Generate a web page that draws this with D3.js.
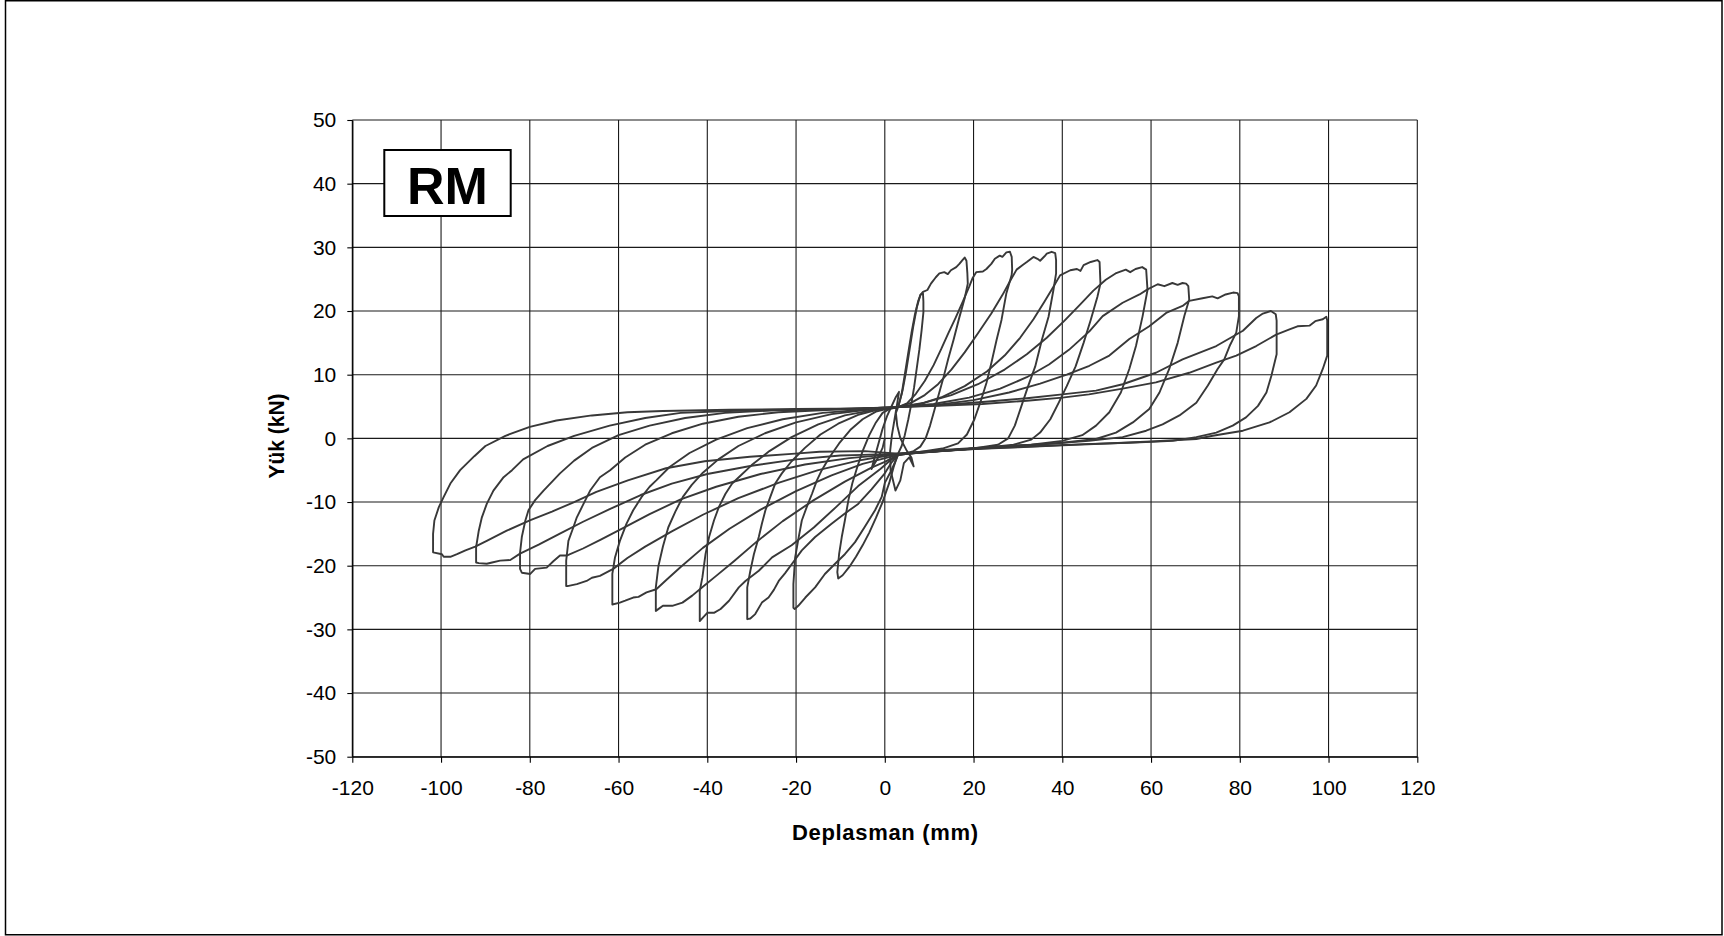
<!DOCTYPE html>
<html>
<head>
<meta charset="utf-8">
<script src="https://cdn.jsdelivr.net/npm/d3@7"></script>
<style>
  html, body { margin: 0; padding: 0; background: #fff; }
  svg { display: block; font-family: "Liberation Sans", Arial, sans-serif; }
</style>
</head>
<body>
<svg id="chart" width="1724" height="936"></svg>
<script>
// ---- axis ticks and labels ----
const xTicks = [-120, -100, -80, -60, -40, -20, 0, 20, 40, 60, 80, 100, 120];
const yTicks = [-50, -40, -30, -20, -10, 0, 10, 20, 30, 40, 50];
const xTitle = "Deplasman (mm)";
const yTitle = "Yük (kN)";
const specimen = "RM";

// ---- load–displacement record, [displacement mm, load kN] ----
// first small cycles around the origin
const start00 = [[0,0],[-0.5,-1.5],[-1.5,-3],[-2.5,-4.2],[-3,-4.8],[-2.5,-3.5],[-1.5,-1],[-0.5,1.5],[0.5,3.5],[1.5,5],[2.5,6.5],[3.2,7.3],[2.8,5.5],[2.2,3],[1.6,0.5],[1.2,-2],[1.3,-5],[2.4,-8.2],[3.5,-6.6],[4.3,-3.9],[5.5,-3],[6.5,-4.4],[6,-3],[5,-2],[3.5,0],[2.8,2],[2.5,4],[3,4.9]];

// push = positive half-cycle, pull = negative half-cycle
const push01 = [[3,4.9],[3.8,7],[4.5,10],[5.3,13.5],[6,16.5],[6.8,19.5],[7.5,21.5],[8.1,22.6],[8.6,22.8],[8.7,21.5],[8.7,19.8],[8.3,17],[7.8,14],[7.2,11],[6.6,8],[6,5.5],[5.3,3],[4.5,0.5],[3.8,-1.2],[3,-2.4]];
const pull01 = [[3,-2.4],[2,-4.5],[1,-7],[-0.5,-10],[-2,-12.5],[-3.5,-14.8],[-5,-16.8],[-6.5,-18.6],[-8,-20.2],[-9.5,-21.5],[-10.5,-22],[-10.7,-21],[-10.3,-18.2],[-9.7,-15.5],[-9,-12.9],[-8.2,-9.7],[-7.3,-7],[-6.2,-4.5],[-5,-2],[-3.5,0.5],[-2,2.5],[-0.5,4],[1,4.6],[3,4.9]];

const push02 = [[3,4.9],[4,7.5],[4.8,10.5],[5.6,14],[6.4,17.5],[7.2,20.5],[8,22.5],[8.6,23],[9.6,23.3],[10.4,24.3],[11.5,25.3],[12.3,25.9],[13.4,26.1],[14.2,25.8],[14.9,26.4],[16.1,26.9],[16.8,27.4],[17.5,28],[18,28.4],[18.4,27.9],[18.6,26],[18.7,24.3],[18,22],[16.8,19],[15.5,15.5],[14.3,12.5],[13.2,9.5],[12.2,7],[11.2,4.5],[10.2,2],[9.2,0],[8,-1.3],[6.5,-2],[4.5,-2.4],[3,-2.6]];
const pull02 = [[3,-2.6],[1.5,-5],[0,-7],[-0.7,-9.2],[-2.2,-11.3],[-4.5,-13.9],[-6.7,-16.3],[-9,-18.2],[-11.2,-19.7],[-13.5,-21.3],[-15.7,-23.4],[-17.9,-25],[-19.5,-26.3],[-20.3,-26.8],[-20.6,-26.6],[-20.6,-22.9],[-20.2,-18.7],[-19.4,-15.5],[-18.7,-12.9],[-17.6,-10.8],[-16.4,-8.7],[-15.3,-6.6],[-14.2,-5],[-12.5,-3],[-10.3,-0.8],[-7.8,1.3],[-5,3],[-2,4.2],[1,4.7],[3,4.9]];

const push03 = [[3,4.9],[5,5.5],[7,7],[9,9],[11,11.5],[12.7,14],[14.3,16.5],[16,19],[17.6,21.5],[19,23.8],[19.8,25.2],[20.6,26.1],[22.1,26.2],[22.9,26.6],[24,27.4],[24.8,28.2],[25.9,28.7],[26.5,28.5],[27.4,29.2],[28.2,29.3],[28.6,28.5],[28.7,26.5],[28.6,25.7],[27.4,22.8],[26.3,18.6],[25.2,15.5],[24,11.8],[22.9,8.7],[21.6,5.8],[20.2,3],[18.5,0.6],[16.5,-0.8],[13,-1.6],[9,-2],[5,-2.4],[3,-2.6]];
const pull03 = [[3,-2.6],[1.5,-3.8],[0,-5.5],[-3,-8],[-6,-10.3],[-9,-11.8],[-12,-13.4],[-15.7,-15.5],[-18.7,-17.6],[-20.9,-19.7],[-22.5,-21.2],[-23.9,-22.4],[-25,-23.8],[-26.2,-25],[-27.7,-25.8],[-29.2,-27.6],[-30.3,-28.3],[-31,-28.4],[-31,-23.4],[-30.3,-20.8],[-29.5,-18.2],[-28.4,-15.5],[-27.7,-13.4],[-26.9,-11.3],[-25.8,-9.2],[-24.7,-7.1],[-23.2,-5.5],[-21,-3.6],[-18,-1.5],[-14.5,0.6],[-10.5,2.3],[-6,3.7],[-1.5,4.5],[3,4.9]];

const push04 = [[3,4.9],[6,5.6],[9,6.8],[12,8.5],[15,10.8],[18,13.5],[21,16.5],[24,19.6],[26.5,22.5],[28.3,24.8],[29.7,26.5],[31,27.2],[32,27.7],[33.5,28.5],[34.4,28.2],[35,27.9],[36,28.6],[36.5,29],[37.6,29.3],[38.4,29.1],[38.6,28],[38.6,25.9],[38,23.3],[36.9,19.1],[35.4,15.5],[33.9,11.3],[32.3,8.2],[30.8,5.1],[29.3,2],[27.8,0],[25.5,-1],[20,-1.6],[13,-2],[7,-2.3],[3,-2.6]];
const pull04 = [[3,-2.6],[1,-3.6],[-1,-4.8],[-6,-7.5],[-11,-10.8],[-16,-14],[-21,-16.8],[-25.4,-18.7],[-28.4,-20.8],[-31.4,-22.4],[-32.9,-23.4],[-35.1,-25.5],[-37,-26.8],[-38.5,-27.4],[-40,-27.4],[-41.2,-28.3],[-41.7,-28.7],[-41.7,-24],[-41.1,-21.8],[-40.4,-18.2],[-39.6,-15.5],[-38.5,-12.9],[-37.4,-10.8],[-35.9,-8.7],[-34.4,-7.1],[-32.9,-6.1],[-30,-4.2],[-26,-2],[-21,0.2],[-15,2.2],[-9,3.6],[-3,4.4],[3,4.9]];

const push05 = [[3,4.9],[8,5.4],[13,6.5],[18,8.2],[23,10.5],[27,13],[30.5,15.8],[33.5,18.7],[36,21.5],[38,23.8],[39.5,25.6],[41.8,26.4],[43.3,26.6],[44.1,26.3],[44.8,27.2],[46.4,27.7],[47.9,28],[48.4,27.7],[48.6,24.3],[47.9,22.2],[46.4,18.6],[44.8,15],[43,11.3],[41,8.2],[39.2,5.6],[37.3,3],[35,0.9],[33,-0.2],[29,-1],[22,-1.5],[14,-1.9],[7,-2.3],[3,-2.6]];
const pull05 = [[3,-2.6],[0,-3.7],[-3,-4.6],[-9,-6.8],[-16,-9.7],[-23,-13],[-29,-16.3],[-34,-19.3],[-38,-21.6],[-41,-23.3],[-43.4,-24.7],[-45.6,-25.8],[-47.9,-26.3],[-50,-26.3],[-51.2,-26.9],[-51.6,-27.1],[-51.6,-23.4],[-51,-20],[-50,-17],[-48.8,-14],[-47.2,-11.5],[-45.5,-9.2],[-43.5,-7.3],[-41,-5.4],[-37.5,-3.3],[-33,-1.2],[-27,0.8],[-20,2.5],[-12,3.8],[-4,4.5],[3,4.9]];

const push06 = [[3,4.9],[9,5.6],[15,6.8],[21,8.5],[27,10.8],[32,13.2],[36.5,15.8],[40.5,18.5],[44,21],[47,23.2],[49.8,24.9],[52,25.9],[54.3,26.5],[55.3,26.1],[56.5,26.6],[58,26.9],[58.9,26.5],[59.2,23.3],[58.1,19.2],[56.6,14.5],[55.1,10.9],[53.2,7.2],[50.6,4.1],[47.6,2],[44.5,0.5],[40,-0.4],[33,-1],[25,-1.4],[16,-1.8],[8,-2.2],[3,-2.6]];
const pull06 = [[3,-2.6],[-1,-3.3],[-5,-4],[-12,-5.8],[-20,-8.3],[-28,-11.2],[-35,-14.2],[-41,-17.2],[-46,-20.2],[-49,-22.1],[-51.5,-23.7],[-53.7,-24.2],[-55.5,-24.9],[-56.7,-25],[-58.5,-25.5],[-59.7,-25.8],[-61.4,-26.1],[-61.4,-21.3],[-60.8,-18.7],[-59.7,-16.1],[-58.2,-13.4],[-56.7,-11.3],[-54.8,-9.2],[-53,-7.6],[-51.5,-6.6],[-48.5,-4.5],[-44,-2.3],[-38,-0.2],[-31,1.6],[-23,3],[-14,4],[-5,4.5],[3,4.9]];

const push07 = [[3,4.9],[11,5.4],[19,6.4],[26,7.8],[32,9.6],[37,11.6],[41.5,13.9],[46.1,16.8],[49.1,19.2],[53.6,21.3],[57.4,22.6],[59.2,23.4],[61.5,24.2],[63,23.9],[64.8,24.4],[66,24.1],[67.1,24.4],[67.9,24.3],[68.4,23.9],[68.6,21.8],[67.5,19.2],[66,15],[64.1,10.9],[61.9,7.2],[59.6,4.6],[55.9,2.5],[52.1,0.9],[47.6,-0.1],[40,-0.7],[30,-1.2],[20,-1.6],[10,-2.1],[3,-2.5]];
const pull07 = [[3,-2.5],[-2,-3],[-6,-3.5],[-15,-5],[-24,-7],[-33,-9.4],[-41,-12],[-48,-14.6],[-54,-17],[-58,-18.8],[-61.2,-20.5],[-64.2,-21.6],[-66,-21.9],[-67.2,-22.4],[-69.4,-22.9],[-71.5,-23.2],[-71.8,-23.2],[-71.8,-19.2],[-71.3,-16.1],[-70.2,-14],[-69.4,-12.4],[-67.9,-10.3],[-66.4,-8.2],[-64.2,-6.1],[-61.9,-5],[-58.5,-3],[-54,-1],[-48,0.8],[-41,2.3],[-33,3.4],[-24,4.1],[-12,4.5],[3,4.9]];

const push08 = [[3,4.9],[12,5.3],[20,6],[28,7.2],[35,8.6],[41,10],[46.1,11.4],[50.6,13],[55.1,15.6],[59.6,17.6],[63.4,19.7],[67.1,20.8],[68.6,21.6],[71.6,22],[73.8,22.3],[75,22],[76.8,22.6],[78.5,22.9],[79.5,22.8],[79.8,22.3],[79.8,19.2],[79.2,16.6],[77.7,14.5],[76.5,12.4],[75,10.9],[72.8,8.3],[70.2,5.6],[66.4,3.6],[62.6,2.2],[58.9,1.2],[53.6,0.2],[46,-0.4],[36,-0.9],[25,-1.3],[14,-1.8],[3,-2.4]];
const pull08 = [[3,-2.4],[-3,-2.8],[-8,-3.1],[-18,-4.1],[-28,-5.6],[-38,-7.6],[-46,-9.6],[-53,-11.9],[-59,-14.1],[-64,-15.9],[-68,-17.3],[-71.7,-18.4],[-73.2,-18.4],[-74.7,-19.3],[-76.2,-20.3],[-78.8,-20.5],[-79.9,-21.3],[-81.8,-21.1],[-82.2,-20.5],[-82.2,-18],[-81.8,-15.5],[-81,-12.9],[-80.3,-11.3],[-78.8,-9.7],[-76.9,-8.2],[-74.7,-6.6],[-73.2,-5.5],[-70,-3.5],[-66,-1.5],[-60,0.5],[-53,2],[-45,3.2],[-36,4],[-25,4.4],[-10,4.6],[3,4.9]];

const push09 = [[3,4.9],[12,5.2],[22,5.7],[32,6.3],[40,6.9],[47.6,7.5],[53.6,8.5],[61.1,10.3],[67.1,12.4],[74.7,14.5],[80.7,16.9],[83.7,18.9],[85.2,19.6],[87,20],[88.1,19.5],[88.3,18.5],[88.3,13.2],[87.1,9.8],[86,7.2],[84.1,5.1],[81.4,3.3],[78.4,2],[74.7,0.9],[70.2,0.2],[64.9,-0.4],[55,-0.7],[45,-0.9],[35,-1.2],[25,-1.5],[14,-1.9],[3,-2.4]];
const pull09 = [[3,-2.4],[-5,-2.6],[-10,-2.7],[-20,-3.3],[-30,-4.3],[-40,-5.6],[-48,-7.1],[-55,-8.9],[-62,-11.1],[-68,-13.1],[-73,-14.9],[-78,-16.7],[-82.2,-18.1],[-84.4,-19.1],[-86.7,-19.2],[-88.5,-19.5],[-89.7,-19.7],[-91.5,-19.6],[-92.1,-19.5],[-92.1,-17.1],[-91.5,-14.5],[-90.8,-12.4],[-89.7,-10.3],[-88.2,-8.2],[-85.9,-6.1],[-84,-5],[-81.5,-3.3],[-76,-1.2],[-70,0.4],[-62,2],[-54,3.2],[-46,4],[-35,4.3],[-20,4.5],[-5,4.7],[3,4.9]];

const push10 = [[3,4.9],[12,5.1],[22,5.4],[32,5.9],[40,6.4],[46,6.9],[53.6,7.8],[61.1,8.8],[68.6,10.3],[74.7,11.9],[79.2,13],[83.7,14.5],[88.2,16.3],[91.2,17.1],[93,17.6],[95.7,17.7],[97,18.4],[98.7,18.7],[99.5,19.1],[99.7,18.5],[99.7,13],[98.7,10.9],[97.2,8.3],[95,6.2],[91.2,4.1],[86.7,2.5],[80.7,1.2],[73.9,0.4],[70.2,-0.1],[60,-0.5],[50,-0.8],[40,-1.1],[30,-1.4],[20,-1.7],[10,-2.1],[3,-2.4]];
const pull10 = [[3,-2.4],[-4.5,-2],[-14.7,-2.1],[-20.2,-2.4],[-30.4,-2.9],[-40.6,-3.6],[-49.3,-4.7],[-57.9,-6.6],[-65,-8.4],[-70,-10],[-75,-11.5],[-80,-12.9],[-85.2,-14.5],[-89.7,-16.1],[-92.3,-17],[-94.5,-17.6],[-96.4,-18.2],[-97.9,-18.6],[-99.4,-18.6],[-99.8,-18.2],[-101.8,-17.9],[-101.8,-15],[-101.5,-12.9],[-100.5,-10.8],[-99.4,-9.2],[-97.9,-7.1],[-95.7,-5],[-92.5,-2.8],[-90,-1.2],[-85.5,0.4],[-80,1.8],[-74,2.8],[-66,3.6],[-58,4.1],[-50,4.3],[-35,4.5],[-20,4.6],[-5,4.7],[3,4.9]];

// test sequence, in loading order
const record = [start00,
  push01, pull01, push02, pull02, push03, pull03, push04, pull04, push05, pull05,
  push06, pull06, push07, pull07, push08, pull08, push09, pull09, push10, pull10];

// ---- layout ----
const W = 1724, H = 936;
const plot = { left: 352.3, right: 1417.3, top: 120, bottom: 756.7 };

const svg = d3.select("#chart");

// outer chart frame
svg.append("rect")
  .attr("x", 5.5).attr("y", 0.75)
  .attr("width", 1716.5).attr("height", 934)
  .attr("fill", "#fff").attr("stroke", "#000").attr("stroke-width", 1.5);

const x = d3.scaleLinear().domain([xTicks[0], xTicks[xTicks.length - 1]]).range([plot.left, plot.right]);
const y = d3.scaleLinear().domain([yTicks[0], yTicks[yTicks.length - 1]]).range([plot.bottom, plot.top]);

// gridlines
const grid = svg.append("g").attr("stroke", "#1a1a1a").attr("stroke-width", 1.1);
grid.selectAll("line.v").data(xTicks).join("line")
  .attr("x1", d => x(d)).attr("x2", d => x(d))
  .attr("y1", plot.top).attr("y2", plot.bottom);
grid.selectAll("line.h").data(yTicks).join("line")
  .attr("y1", d => y(d)).attr("y2", d => y(d))
  .attr("x1", plot.left).attr("x2", plot.right);

// axes
const fontSize = 21;
const xAxis = svg.append("g")
  .attr("transform", `translate(0,${plot.bottom})`)
  .call(d3.axisBottom(x).tickValues(xTicks).tickSize(6).tickSizeOuter(0).tickPadding(17).tickFormat(d3.format("d")));
const yAxis = svg.append("g")
  .attr("transform", `translate(${plot.left},0)`)
  .call(d3.axisLeft(y).tickValues(yTicks).tickSize(5).tickSizeOuter(0).tickPadding(11).tickFormat(d3.format("d")));

[xAxis, yAxis].forEach(g => {
  g.select(".domain").attr("stroke", "#000").attr("stroke-width", 1.3);
  g.selectAll(".tick line").attr("stroke", "#000").attr("stroke-width", 1.1);
  g.selectAll(".tick text")
    .attr("fill", "#000")
    .style("font-family", "'Liberation Sans', Arial, sans-serif")
    .style("font-size", fontSize + "px")
    .text(d => d < 0 ? "-" + Math.abs(d) : String(d));
});

// hysteresis curve
const line = d3.line().x(d => x(d[0])).y(d => y(d[1])).curve(d3.curveLinear);
svg.append("g")
  .selectAll("path").data(record).join("path")
  .attr("d", line)
  .attr("fill", "none")
  .attr("stroke", "#383838")
  .attr("stroke-width", 1.9)
  .attr("stroke-linejoin", "round");

// specimen label box
const box = svg.append("g");
box.append("rect")
  .attr("x", 384.3).attr("y", 150)
  .attr("width", 126.4).attr("height", 66)
  .attr("fill", "#fff").attr("stroke", "#000").attr("stroke-width", 2);
box.append("text")
  .attr("x", 447.5).attr("y", 204)
  .attr("text-anchor", "middle")
  .style("font-size", "52px").style("font-weight", "bold")
  .attr("fill", "#000")
  .text(specimen);

// axis titles
svg.append("text")
  .attr("x", 885).attr("y", 840)
  .attr("text-anchor", "middle")
  .style("font-size", "22px").style("font-weight", "bold")
  .attr("textLength", 186).attr("lengthAdjust", "spacing")
  .attr("fill", "#000")
  .text(xTitle);

svg.append("text")
  .attr("transform", "translate(284,436) rotate(-90)")
  .attr("text-anchor", "middle")
  .style("font-size", "22px").style("font-weight", "bold")
  .attr("textLength", 85).attr("lengthAdjust", "spacingAndGlyphs")
  .attr("fill", "#000")
  .text(yTitle);
</script>
</body>
</html>
